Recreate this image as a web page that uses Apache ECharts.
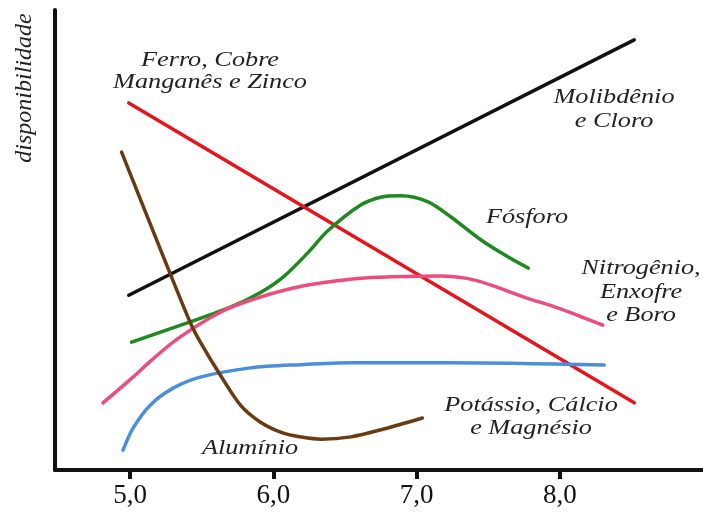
<!DOCTYPE html>
<html>
<head>
<meta charset="utf-8">
<script src="https://cdn.jsdelivr.net/npm/echarts@6/dist/echarts.min.js"></script>
<style>
  html, body { margin: 0; padding: 0; background: #fff; }
  #main { width: 703px; height: 512px; }
</style>
</head>
<body>
<div id="main"></div>
<script>
// pH ticks
var xTicks = [5, 6, 7, 8];

// [pH, disponibilidade] (y in 0..100)
var molibdenioPts = [[4.99, 38.0], [8.52, 93.5]];
var ferroPts = [[4.99, 79.8], [8.52, 14.6]];
var fosforoPts = [
  [5.01, 27.8], [5.42, 32.2], [5.70, 35.4], [5.91, 38.6], [6.07, 42.0],
  [6.24, 47.2], [6.38, 52.0], [6.61, 57.6], [6.75, 59.3],
  [6.89, 59.6], [7.08, 58.3], [7.24, 55.0], [7.45, 50.0], [7.64, 46.3],
  [7.78, 43.9]
];
var nitrogenioPts = [
  [4.81, 14.6], [5.02, 20.2], [5.15, 23.9], [5.33, 28.5],
  [5.63, 34.3], [5.91, 37.6], [6.24, 40.2], [6.61, 41.7], [6.82, 42.0],
  [7.17, 42.2], [7.36, 41.6], [7.52, 40.2], [7.75, 37.6], [7.99, 35.2],
  [8.15, 33.3], [8.30, 31.5]
];
var potassioPts = [
  [4.95, 4.3], [5.02, 9.1], [5.14, 14.1], [5.30, 17.8], [5.49, 20.2],
  [5.84, 22.2], [6.19, 22.9], [6.54, 23.3], [7.24, 23.3],
  [8.31, 22.8]
];
var aluminioPts = [
  [4.94, 69.1], [5.23, 46.5], [5.42, 32.0], [5.49, 27.8],
  [5.63, 20.6], [5.77, 14.1], [5.91, 10.4], [6.07, 8.0], [6.19, 7.2],
  [6.33, 6.7], [6.54, 7.2], [6.77, 8.9], [7.04, 11.3]
];

var SERIF = "Liberation Serif";
var TXT = "#222";

function curve(name, pts, color, smooth) {
  return {
    name: name,
    type: "line",
    data: pts,
    showSymbol: false,
    smooth: smooth,
    lineStyle: { color: color, width: 3.5, cap: "round" },
    silent: true
  };
}

function label(text, x, y, lh) {
  return {
    type: "text",
    x: x,
    y: y,
    scaleX: 1.25,
    style: {
      text: text,
      fill: TXT,
      fontFamily: SERIF,
      fontStyle: "italic",
      fontSize: 21,
      align: "center",
      verticalAlign: "middle",
      lineHeight: lh || 22
    }
  };
}

var chart = echarts.init(document.getElementById("main"));
chart.setOption({
  animation: false,
  grid: { left: 55, right: 0, top: 10, bottom: 42 },
  xAxis: {
    type: "value",
    min: 4.475,
    max: 9.0,
    axisLine: { lineStyle: { color: "#111", width: 4 } },
    axisTick: {
      show: true,
      customValues: xTicks,
      length: 9,
      lineStyle: { color: "#111", width: 4 }
    },
    axisLabel: {
      customValues: xTicks,
      margin: 12,
      fontFamily: SERIF,
      fontSize: 27,
      color: "#111",
      formatter: function (v) { return v.toFixed(1).replace(".", ","); }
    },
    splitLine: { show: false }
  },
  yAxis: {
    type: "value",
    min: 0,
    max: 100,
    axisLine: { show: true, lineStyle: { color: "#111", width: 4 } },
    axisTick: { show: false },
    axisLabel: { show: false },
    splitLine: { show: false }
  },
  series: [
    curve("Molibdênio e Cloro", molibdenioPts, "#111111", false),
    curve("Ferro, Cobre, Manganês e Zinco", ferroPts, "#e8141b", false),
    curve("Fósforo", fosforoPts, "#1d8a1d", 0.3),
    curve("Nitrogênio, Enxofre e Boro", nitrogenioPts, "#ee4c7d", 0.3),
    curve("Potássio, Cálcio e Magnésio", potassioPts, "#4a8fd8", 0.3),
    curve("Alumínio", aluminioPts, "#6a3a10", 0.3)
  ],
  graphic: [
    {
      type: "text",
      x: 25,
      y: 88,
      rotation: Math.PI / 2,
      style: {
        text: "disponibilidade",
        fill: TXT,
        fontFamily: SERIF,
        fontStyle: "italic",
        fontSize: 24,
        align: "center",
        verticalAlign: "middle"
      }
    },
    label("Ferro, Cobre\nManganês e Zinco", 210, 71, 22),
    label("Molibdênio\ne Cloro", 614, 109, 24),
    label("Fósforo", 527, 217),
    label("Nitrogênio,\nEnxofre\ne Boro", 641, 292, 23.5),
    label("Potássio, Cálcio\ne Magnésio", 531, 417, 23),
    label("Alumínio", 250, 448)
  ]
});
</script>
</body>
</html>
